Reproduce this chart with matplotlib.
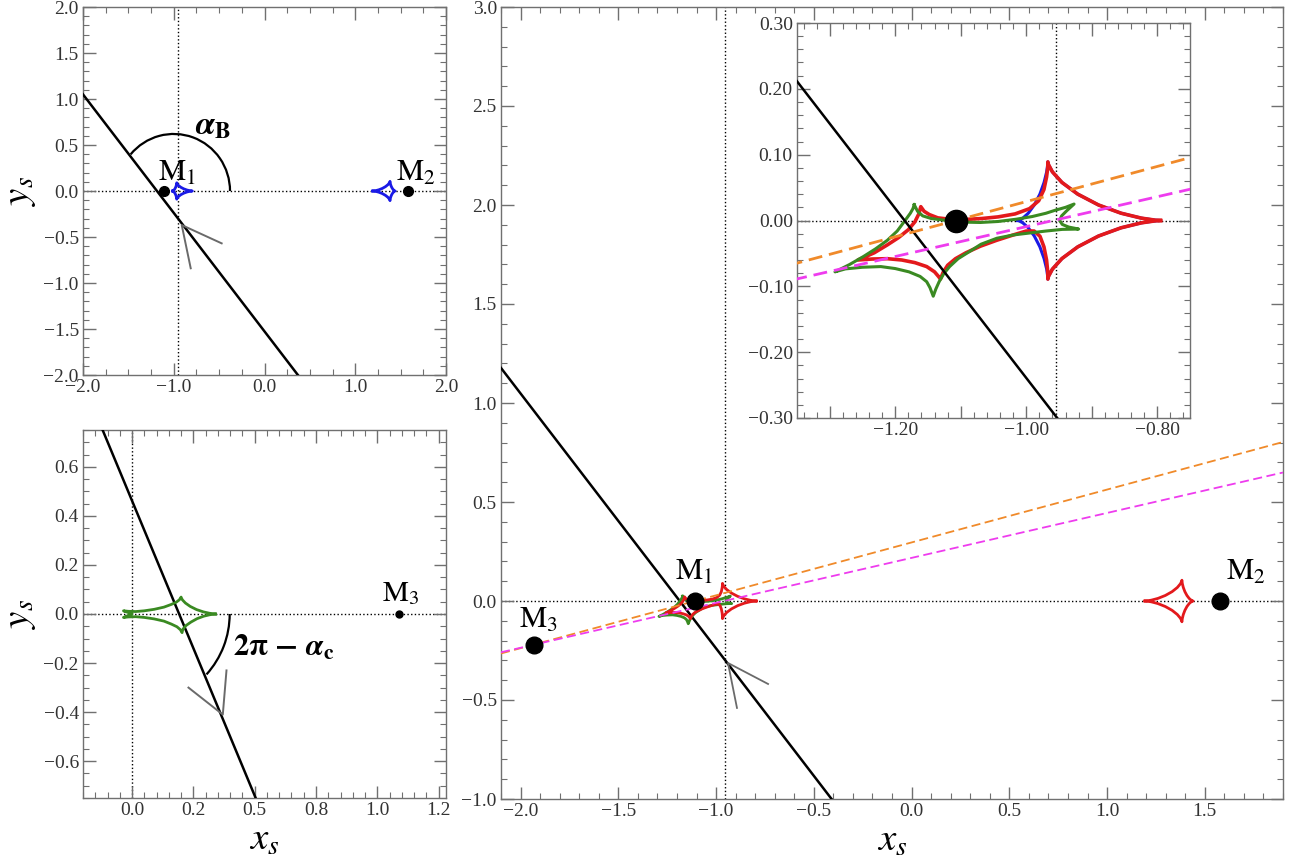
import matplotlib
matplotlib.use('Agg')
import matplotlib.pyplot as plt
from matplotlib.patches import Arc
from matplotlib.ticker import MultipleLocator, FixedLocator

plt.rcParams['font.family'] = ['Liberation Serif', 'DejaVu Serif']
plt.rcParams['mathtext.fontset'] = 'stix'

# ---------------- data ----------------
# lens positions
m1_xy = (-1.107, 0.0)
m2_xy = (1.58, 0.0)
m3_xy = (-1.93, -0.22)
m3_local_xy = (1.09, 0.0)

x_ref = -0.955   # vertical dotted reference line

# source trajectories
traj_tl_x = [-2.0, 0.368]
traj_tl_y = [1.05, -2.0]
traj_main_x = [-2.1, -0.409]
traj_main_y = [1.177, -1.0]
traj_bl_x = [-0.12, 0.504]
traj_bl_y = [0.75, -0.75]

# arrow heads (gray V)
arrow_tl_x = [-0.472, -0.912, -0.813]
arrow_tl_y = [-0.569, -0.370, -0.840]
arrow_main_x = [-0.734, -0.939, -0.893]
arrow_main_y = [-0.419, -0.313, -0.540]
arrow_bl_x = [0.23, 0.37, 0.385]
arrow_bl_y = [-0.30, -0.41, -0.23]

# dashed lines through M3
orange_x = [-2.1, 1.9]
orange_y = [-0.265, 0.803]
magenta_x = [-2.1, 1.9]
magenta_y = [-0.259, 0.649]

# binary (M1-M2) central caustic, blue
blue_c_x = [-1.013, -1.0109, -1.0052, -0.9969, -0.9877, -0.9792, -0.9728, -0.9688, -0.9672, -0.967,
            -0.9661, -0.9601, -0.9455, -0.9213, -0.8897, -0.8553, -0.8243, -0.8027, -0.795,
            -0.8027, -0.8243, -0.8553, -0.8897, -0.9213, -0.9455, -0.9601, -0.9661, -0.967,
            -0.9672, -0.9688, -0.9728, -0.9792, -0.9877, -0.9969, -1.0052, -1.0109, -1.013]
blue_c_y = [0.0, 0.0005, 0.0036, 0.0111, 0.0236, 0.0400, 0.0578, 0.0739, 0.0850, 0.089,
            0.0850, 0.0739, 0.0578, 0.0400, 0.0236, 0.0111, 0.0036, 0.0005, 0.0,
            -0.0005, -0.0036, -0.0111, -0.0236, -0.0400, -0.0578, -0.0739, -0.0850, -0.089,
            -0.0850, -0.0739, -0.0578, -0.0400, -0.0236, -0.0111, -0.0036, -0.0005, 0.0]

# planetary caustic near M2
m2c_x = [1.194, 1.2025, 1.2262, 1.2602, 1.2980, 1.3328, 1.3594, 1.3754, 1.3820, 1.383,
         1.3833, 1.3853, 1.3901, 1.3981, 1.4086, 1.4200, 1.4303, 1.4374, 1.440,
         1.4374, 1.4303, 1.4200, 1.4086, 1.3981, 1.3901, 1.3853, 1.3833, 1.383,
         1.3820, 1.3754, 1.3594, 1.3328, 1.2980, 1.2602, 1.2262, 1.2025, 1.194]
m2c_y = [0.0, 0.0005, 0.0042, 0.0131, 0.0279, 0.0472, 0.0682, 0.0871, 0.1003, 0.105,
         0.1003, 0.0871, 0.0682, 0.0472, 0.0279, 0.0131, 0.0042, 0.0005, 0.0,
         -0.0005, -0.0042, -0.0131, -0.0279, -0.0472, -0.0682, -0.0871, -0.1003, -0.105,
         -0.1003, -0.0871, -0.0682, -0.0472, -0.0279, -0.0131, -0.0042, -0.0005, 0.0]

# triple-lens caustic, red
red_x = [-0.795, -0.8027, -0.8243, -0.8553, -0.8897, -0.9213, -0.9455, -0.9601, -0.9661, -0.967,
         -0.9672, -0.969, -0.973, -0.981, -0.995, -1.017, -1.043, -1.068, -1.095, -1.118,
         -1.135, -1.148, -1.156, -1.161,
         -1.164, -1.170, -1.180, -1.195, -1.212, -1.232, -1.257,
         -1.235, -1.212, -1.190, -1.170, -1.152, -1.140, -1.134, -1.131,
         -1.127, -1.120, -1.108, -1.092, -1.070, -1.045, -1.020, -1.000, -0.988, -0.979,
         -0.973, -0.969, -0.9672, -0.967,
         -0.9661, -0.9601, -0.9455, -0.9213, -0.8897, -0.8553, -0.8243, -0.8027, -0.795]
red_y = [0.0, 0.0005, 0.0036, 0.0111, 0.0236, 0.0400, 0.0578, 0.0739, 0.0850, 0.089,
         0.080, 0.066, 0.047, 0.030, 0.018, 0.010, 0.0055, 0.003, 0.0015, 0.002,
         0.004, 0.009, 0.014, 0.021,
         0.010, -0.002, -0.014, -0.026, -0.037, -0.049, -0.060,
         -0.0585, -0.058, -0.060, -0.064, -0.070, -0.078, -0.085, -0.089,
         -0.079, -0.068, -0.058, -0.049, -0.039, -0.030, -0.022, -0.016, -0.016, -0.024,
         -0.040, -0.060, -0.078, -0.089,
         -0.0850, -0.0739, -0.0578, -0.0400, -0.0236, -0.0111, -0.0036, -0.0005, 0.0]

# triple-lens caustic, green
green_x = [-1.171, -1.166, -1.158, -1.145, -1.130, -1.110, -1.094, -1.070, -1.043, -1.015,
           -0.991, -0.970, -0.956, -0.940, -0.927,
           -0.938, -0.946, -0.949, -0.945, -0.935, -0.920,
           -0.945, -0.970, -0.995, -1.020, -1.045, -1.069, -1.088, -1.104, -1.117, -1.126,
           -1.133, -1.138, -1.142,
           -1.147, -1.152, -1.162, -1.179, -1.200, -1.222, -1.250, -1.276, -1.292,
           -1.270, -1.249, -1.230, -1.212, -1.197, -1.185, -1.177, -1.173, -1.171]
green_y = [0.024, 0.014, 0.007, 0.003, 0.001, -0.001, -0.0025, -0.003, -0.0015, 0.002,
           0.006, 0.011, 0.0155, 0.020, 0.025,
           0.015, 0.007, 0.0, -0.006, -0.010, -0.013,
           -0.0135, -0.016, -0.019, -0.022, -0.027, -0.036, -0.048, -0.058, -0.070, -0.081,
           -0.093, -0.104, -0.115,
           -0.102, -0.093, -0.085, -0.078, -0.073, -0.070, -0.071, -0.0735, -0.078,
           -0.067, -0.055, -0.043, -0.030, -0.016, 0.000, 0.011, 0.018, 0.024]

# caustic in the M1-M3 frame (bottom-left panel), green
green_bl_x = [0.34, 0.316, 0.291, 0.263, 0.237, 0.2175, 0.2056, 0.2007, 0.2,
              0.193, 0.18, 0.16, 0.13, 0.09, 0.05, 0.015, -0.015, -0.035,
              -0.01, 0.0, -0.01, -0.035,
              -0.015, 0.015, 0.05, 0.09, 0.13, 0.16, 0.183, 0.197, 0.204,
              0.205, 0.209, 0.22, 0.24, 0.265, 0.292, 0.317, 0.34]
green_bl_y = [0.0, 0.003, 0.0086, 0.018, 0.031, 0.0448, 0.0573, 0.0659, 0.069,
              0.058, 0.048, 0.039, 0.028, 0.019, 0.013, 0.010, 0.011, 0.013,
              0.004, 0.0, -0.004, -0.014,
              -0.012, -0.011, -0.014, -0.020, -0.029, -0.041, -0.052, -0.064, -0.076,
              -0.069, -0.060, -0.047, -0.033, -0.019, -0.009, -0.003, 0.0]

# ticks
tl_xticks = [-2.0, -1.0, 0.0, 1.0, 2.0]
tl_xticklabels = ['\u22122.0', '\u22121.0', '0.0', '1.0', '2.0']
tl_yticks = [2.0, 1.5, 1.0, 0.5, 0.0, -0.5, -1.0, -1.5, -2.0]
tl_yticklabels = ['2.0', '1.5', '1.0', '0.5', '0.0', '\u22120.5', '\u22121.0', '\u22121.5', '\u22122.0']
bl_xticks = [0.0, 0.25, 0.5, 0.75, 1.0, 1.25]
bl_xticklabels = ['0.0', '0.2', '0.5', '0.8', '1.0', '1.2']
bl_yticks = [0.6, 0.4, 0.2, 0.0, -0.2, -0.4, -0.6]
bl_yticklabels = ['0.6', '0.4', '0.2', '0.0', '\u22120.2', '\u22120.4', '\u22120.6']
m_xticks = [-2.0, -1.5, -1.0, -0.5, 0.0, 0.5, 1.0, 1.5]
m_xticklabels = ['\u22122.0', '\u22121.5', '\u22121.0', '\u22120.5', '0.0', '0.5', '1.0', '1.5']
m_yticks = [3.0, 2.5, 2.0, 1.5, 1.0, 0.5, 0.0, -0.5, -1.0]
m_yticklabels = ['3.0', '2.5', '2.0', '1.5', '1.0', '0.5', '0.0', '\u22120.5', '\u22121.0']
in_xticks = [-1.3, -1.2, -1.1, -1.0, -0.9, -0.8]
in_xticklabels = ['', '\u22121.20', '', '\u22121.00', '', '\u22120.80']
in_yticks = [0.3, 0.2, 0.1, 0.0, -0.1, -0.2, -0.3]
in_yticklabels = ['0.30', '0.20', '0.10', '0.00', '\u22120.10', '\u22120.20', '\u22120.30']

# ---------------- styling ----------------
BLUE = '#1a1ae6'
RED = '#e3191c'
GREEN = '#3a8a22'
ORANGE = '#f08a2a'
MAGENTA = '#ee3cee'
GRAY = '#6a6a6a'


def style(ax, xt, xtl, yt, ytl, xminor, yminor):
    for s in ax.spines.values():
        s.set_color('#707070')
        s.set_linewidth(1.0)
    ax.xaxis.set_major_locator(FixedLocator(xt))
    ax.set_xticklabels(xtl)
    ax.yaxis.set_major_locator(FixedLocator(yt))
    ax.set_yticklabels(ytl)
    ax.xaxis.set_minor_locator(MultipleLocator(xminor))
    ax.yaxis.set_minor_locator(MultipleLocator(yminor))
    ax.tick_params(which='both', direction='in', top=True, right=True,
                   colors='#707070', labelcolor='#333333', labelsize=14)
    ax.tick_params(which='major', length=9, width=1.0, pad=3)
    ax.tick_params(which='minor', length=4.5, width=0.8)


fig = plt.figure(figsize=(12.98, 8.58), dpi=100)
W, H = 1298.0, 858.0
ax_tl = fig.add_axes([83 / W, 1 - 375 / H, 363 / W, 368 / H])
ax_bl = fig.add_axes([83 / W, 1 - 798 / H, 363 / W, 368 / H])
ax_m = fig.add_axes([501 / W, 1 - 799 / H, 782 / W, 792 / H])
ax_in = fig.add_axes([797 / W, 1 - 418 / H, 393 / W, 395 / H])

dot_kw = dict(color='k', ls=':', lw=1.0, zorder=1)

# ---- top-left ----
ax = ax_tl
ax.axhline(0, **dot_kw)
ax.axvline(x_ref, **dot_kw)
ax.plot(traj_tl_x, traj_tl_y, color='k', lw=1.8, zorder=3)
ax.plot(arrow_tl_x, arrow_tl_y, color=GRAY, lw=1.4, zorder=3)
ax.plot(blue_c_x, blue_c_y, color=BLUE, lw=2.0, zorder=4)
ax.plot(m2c_x, m2c_y, color=BLUE, lw=2.0, zorder=4)
ax.plot(*m1_xy, 'o', color='k', ms=7, zorder=5)
ax.plot(*m2_xy, 'o', color='k', ms=7, zorder=5)
ax.add_patch(Arc((-1.0, 0.0), 1.24, 1.24, theta1=0, theta2=140, color='k', lw=1.6))
ax.text(-0.57, 0.70, r'$\mathbfit{\alpha}_{\mathbf{B}}$', fontsize=24, ha='center', va='center')
ax.text(-1.17, 0.04, r'$\mathrm{M}_1$', fontsize=22, ha='left', va='bottom')
ax.text(1.45, 0.04, r'$\mathrm{M}_2$', fontsize=22, ha='left', va='bottom')
ax.set_xlim(-2.0, 2.0)
ax.set_ylim(-2.0, 2.0)
style(ax, tl_xticks, tl_xticklabels, tl_yticks, tl_yticklabels, 0.25, 0.1)
ax.set_ylabel(r'$y_s$', fontsize=28, labelpad=4)

# ---- bottom-left ----
ax = ax_bl
ax.axhline(0, **dot_kw)
ax.axvline(0, **dot_kw)
ax.plot(traj_bl_x, traj_bl_y, color='k', lw=1.8, zorder=3)
ax.plot(arrow_bl_x, arrow_bl_y, color=GRAY, lw=1.4, zorder=3)
ax.plot(green_bl_x, green_bl_y, color=GREEN, lw=2.0, zorder=4)
ax.plot(*m3_local_xy, 'o', color='k', ms=5, zorder=5)
ax.add_patch(Arc((0.03, 0.0), 0.736, 0.736, theta1=-42, theta2=0, color='k', lw=1.6))
ax.text(0.41, -0.14, r'$\mathbf{2\pi}\ \mathbf{-}\ \mathbfit{\alpha}_{\mathbf{c}}$', fontsize=22,
        ha='left', va='center')
ax.text(1.02, 0.03, r'$\mathrm{M}_3$', fontsize=21, ha='left', va='bottom')
ax.set_xlim(-0.2, 1.28)
ax.set_ylim(-0.75, 0.75)
style(ax, bl_xticks, bl_xticklabels, bl_yticks, bl_yticklabels, 0.05, 0.05)
ax.set_ylabel(r'$y_s$', fontsize=28, labelpad=4)
ax.set_xlabel(r'$x_s$', fontsize=28, labelpad=2)

# ---- main ----
ax = ax_m
ax.axhline(0, **dot_kw)
ax.axvline(x_ref, **dot_kw)
ax.plot(traj_main_x, traj_main_y, color='k', lw=1.8, zorder=3)
ax.plot(arrow_main_x, arrow_main_y, color=GRAY, lw=1.3, zorder=3)
ax.plot(orange_x, orange_y, color=ORANGE, lw=1.3, ls=(0, (5, 2.5)), zorder=4)
ax.plot(magenta_x, magenta_y, color=MAGENTA, lw=1.3, ls=(0, (5, 2.5)), zorder=4)
ax.plot(red_x, red_y, color=RED, lw=2.0, zorder=3.5)
ax.plot(green_x, green_y, color=GREEN, lw=2.0, zorder=3.4)
ax.plot(m2c_x, m2c_y, color=RED, lw=2.0, zorder=3.5)
for p in (m1_xy, m2_xy, m3_xy):
    ax.plot(*p, 'o', color='k', ms=12, zorder=6)
ax.text(-1.21, 0.07, r'$\mathrm{M}_1$', fontsize=22, ha='left', va='bottom')
ax.text(1.61, 0.07, r'$\mathrm{M}_2$', fontsize=22, ha='left', va='bottom')
ax.text(-2.01, -0.17, r'$\mathrm{M}_3$', fontsize=22, ha='left', va='bottom')
ax.set_xlim(-2.1, 1.9)
ax.set_ylim(-1.0, 3.0)
style(ax, m_xticks, m_xticklabels, m_yticks, m_yticklabels, 0.1, 0.1)
ax.set_xlabel(r'$x_s$', fontsize=28, labelpad=2)

# ---- inset ----
ax = ax_in
ax.set_facecolor('white')
ax.axhline(0, **dot_kw)
ax.axvline(x_ref, **dot_kw)
ax.plot(traj_main_x, traj_main_y, color='k', lw=1.8, zorder=4)
ax.plot(blue_c_x, blue_c_y, color=BLUE, lw=2.2, zorder=3)
ax.plot(red_x, red_y, color=RED, lw=2.6, zorder=3.2)
ax.plot(green_x, green_y, color=GREEN, lw=2.2, zorder=3.4)
ax.plot(orange_x, orange_y, color=ORANGE, lw=2.0, ls=(0, (5, 2.5)), zorder=4.5)
ax.plot(magenta_x, magenta_y, color=MAGENTA, lw=2.0, ls=(0, (5, 2.5)), zorder=4.5)
ax.plot(*m1_xy, 'o', color='k', ms=16, zorder=6)
ax.set_xlim(-1.35, -0.75)
ax.set_ylim(-0.3, 0.3)
style(ax, in_xticks, in_xticklabels, in_yticks, in_yticklabels, 0.02, 0.02)

fig.savefig('out.png', dpi=100)
